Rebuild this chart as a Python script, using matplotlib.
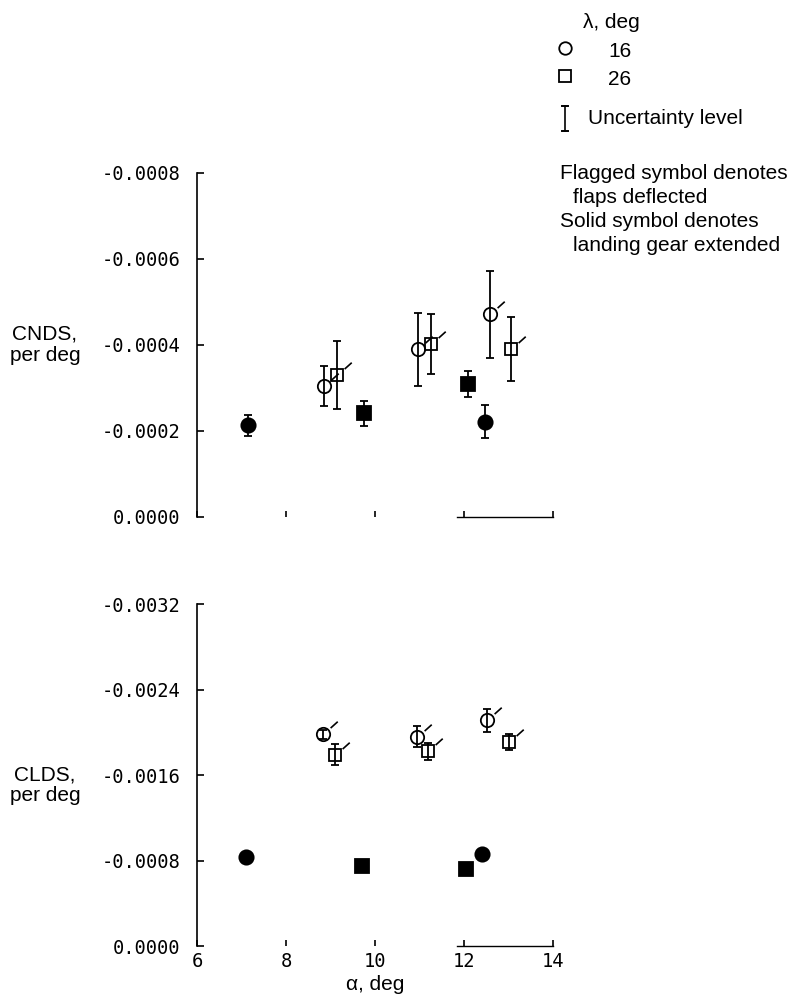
import matplotlib
matplotlib.use("Agg")
import matplotlib.pyplot as plt
from matplotlib.path import Path

plt.rcParams['axes.unicode_minus'] = False

# CNDS (top panel), per deg -- lambda = 16 deg (circles), 26 deg (squares)
cn_open16_x = [8.85, 10.97, 12.58]
cn_open16_y = [-0.000305, -0.00039, -0.000471]
cn_open16_err = [0.000046, 0.000085, 0.000101]
cn_open26_x = [9.14, 11.25, 13.06]
cn_open26_y = [-0.00033, -0.000402, -0.00039]
cn_open26_err = [0.000079, 0.00007, 0.000074]
cn_solid16_x = [7.15, 12.47]
cn_solid16_y = [-0.000213, -0.000222]
cn_solid16_err = [0.000025, 0.000039]
cn_solid26_x = [9.76, 12.10]
cn_solid26_y = [-0.000241, -0.000309]
cn_solid26_err = [0.000029, 0.00003]

# CLDS (bottom panel), per deg
cl_open16_x = [8.82, 10.94, 12.51]
cl_open16_y = [-0.00198, -0.00196, -0.00211]
cl_open16_err = [0.00004, 0.0001, 0.00011]
cl_open26_x = [9.10, 11.20, 13.02]
cl_open26_y = [-0.00179, -0.00182, -0.00191]
cl_open26_err = [0.0001, 0.00008, 0.000075]
cl_solid16_x = [7.10, 12.41]
cl_solid16_y = [-0.00083, -0.00086]
cl_solid16_err = [0.00002, 0.00002]
cl_solid26_x = [9.70, 12.04]
cl_solid26_y = [-0.00075, -0.00072]
cl_solid26_err = [0.0, 0.0]

cn_ticks = [0.0, -0.0002, -0.0004, -0.0006, -0.0008]
cl_ticks = [0.0, -0.0008, -0.0016, -0.0024, -0.0032]
x_ticks = [6, 8, 10, 12, 14]

TXT = ['Liberation Sans', 'DejaVu Sans']
NUM = ['DejaVu Sans Mono']

# short slanted "flag" drawn from the upper right edge of a symbol
flag = Path([(0.5, 0.45), (1.0, 0.9)], [Path.MOVETO, Path.LINETO])


def draw_set(ax, x, y, err, marker, filled, flagged):
    if filled:
        ms = 10.3 if marker == 'o' else 9.8
    else:
        ms = 9.6 if marker == 'o' else 9.2
    ax.errorbar(x, y, yerr=err, fmt=marker, ms=ms,
                mfc='black' if filled else 'none', mec='black', mew=1.3,
                ecolor='black', elinewidth=1.3, capsize=3.0, capthick=1.8,
                zorder=3)
    if flagged:
        ax.plot(x, y, linestyle='none', marker=flag, ms=20.5,
                mec='black', mew=1.2, zorder=3)


def style_axis(ax, ticks, show_xlabels):
    ax.set_xlim(6, 14)
    ax.set_ylim(ticks[0], ticks[-1])
    ax.spines['top'].set_visible(False)
    ax.spines['right'].set_visible(False)
    ax.spines['bottom'].set_bounds(11.85, 14)
    ax.spines['left'].set_linewidth(1.2)
    ax.spines['bottom'].set_linewidth(1.0)
    ax.set_yticks(ticks)
    ax.set_yticklabels([f"{t:.4f}".replace("-0.0000", "0.0000") for t in ticks],
                       family=NUM, fontsize=13.5)
    ax.set_xticks(x_ticks)
    if show_xlabels:
        ax.set_xticklabels([str(t) for t in x_ticks], family=NUM, fontsize=13.5)
    else:
        ax.set_xticklabels([])
    ax.tick_params(axis='y', direction='in', length=5, width=1.2, pad=12)
    ax.tick_params(axis='x', direction='in', length=4, width=1.2, pad=4)


fig = plt.figure(figsize=(7.97, 10.05), dpi=100)
ax1 = fig.add_axes([0.2472, 0.4856, 0.4467, 0.3423])
ax2 = fig.add_axes([0.2472, 0.0587, 0.4467, 0.3403])

draw_set(ax1, cn_open16_x, cn_open16_y, cn_open16_err, 'o', False, True)
draw_set(ax1, cn_open26_x, cn_open26_y, cn_open26_err, 's', False, True)
draw_set(ax1, cn_solid16_x, cn_solid16_y, cn_solid16_err, 'o', True, False)
draw_set(ax1, cn_solid26_x, cn_solid26_y, cn_solid26_err, 's', True, False)
style_axis(ax1, cn_ticks, False)

draw_set(ax2, cl_open16_x, cl_open16_y, cl_open16_err, 'o', False, True)
draw_set(ax2, cl_open26_x, cl_open26_y, cl_open26_err, 's', False, True)
draw_set(ax2, cl_solid16_x, cl_solid16_y, cl_solid16_err, 'o', True, False)
draw_set(ax2, cl_solid26_x, cl_solid26_y, cl_solid26_err, 's', True, False)
style_axis(ax2, cl_ticks, True)

ax1.text(-0.427, 0.5, "CNDS,\nper deg", transform=ax1.transAxes, ha='center',
         va='center', family=TXT, fontsize=15, linespacing=1.15)
ax2.text(-0.427, 0.47, "CLDS,\nper deg", transform=ax2.transAxes, ha='center',
         va='center', family=TXT, fontsize=15, linespacing=1.15)
ax2.set_xlabel("α, deg", family=TXT, fontsize=15, labelpad=3)


def fx(px):
    return px / 797


def fy(py):
    return 1 - py / 1005


# legend block (upper right)
fig.text(fx(583), fy(28), "λ, deg", family=TXT, fontsize=15, va='baseline')
fig.lines.append(plt.Line2D([fx(565)], [fy(48)], transform=fig.transFigure,
                            marker='o', ms=9, mfc='none', mec='black', mew=1.3))
fig.text(fx(608), fy(57), "16", family=TXT, fontsize=15, va='baseline')
fig.lines.append(plt.Line2D([fx(565)], [fy(76)], transform=fig.transFigure,
                            marker='s', ms=8.5, mfc='none', mec='black', mew=1.3))
fig.text(fx(608), fy(85), "26", family=TXT, fontsize=15, va='baseline')
fig.lines.append(plt.Line2D([fx(565), fx(565)], [fy(106), fy(131)],
                            transform=fig.transFigure, color='black', lw=1.2))
fig.lines.append(plt.Line2D([fx(562), fx(568)], [fy(106), fy(106)],
                            transform=fig.transFigure, color='black', lw=1.4))
fig.lines.append(plt.Line2D([fx(562), fx(568)], [fy(131), fy(131)],
                            transform=fig.transFigure, color='black', lw=1.4))
fig.text(fx(588), fy(124), "Uncertainty level", family=TXT, fontsize=15,
         va='baseline')

notes = [("Flagged symbol denotes", 560, 179),
         ("flaps deflected", 573, 203),
         ("Solid symbol denotes", 560, 227),
         ("landing gear extended", 573, 251)]
for txt, px, py in notes:
    fig.text(fx(px), fy(py), txt, family=TXT, fontsize=15, va='baseline')

fig.savefig("out.png", dpi=100)
